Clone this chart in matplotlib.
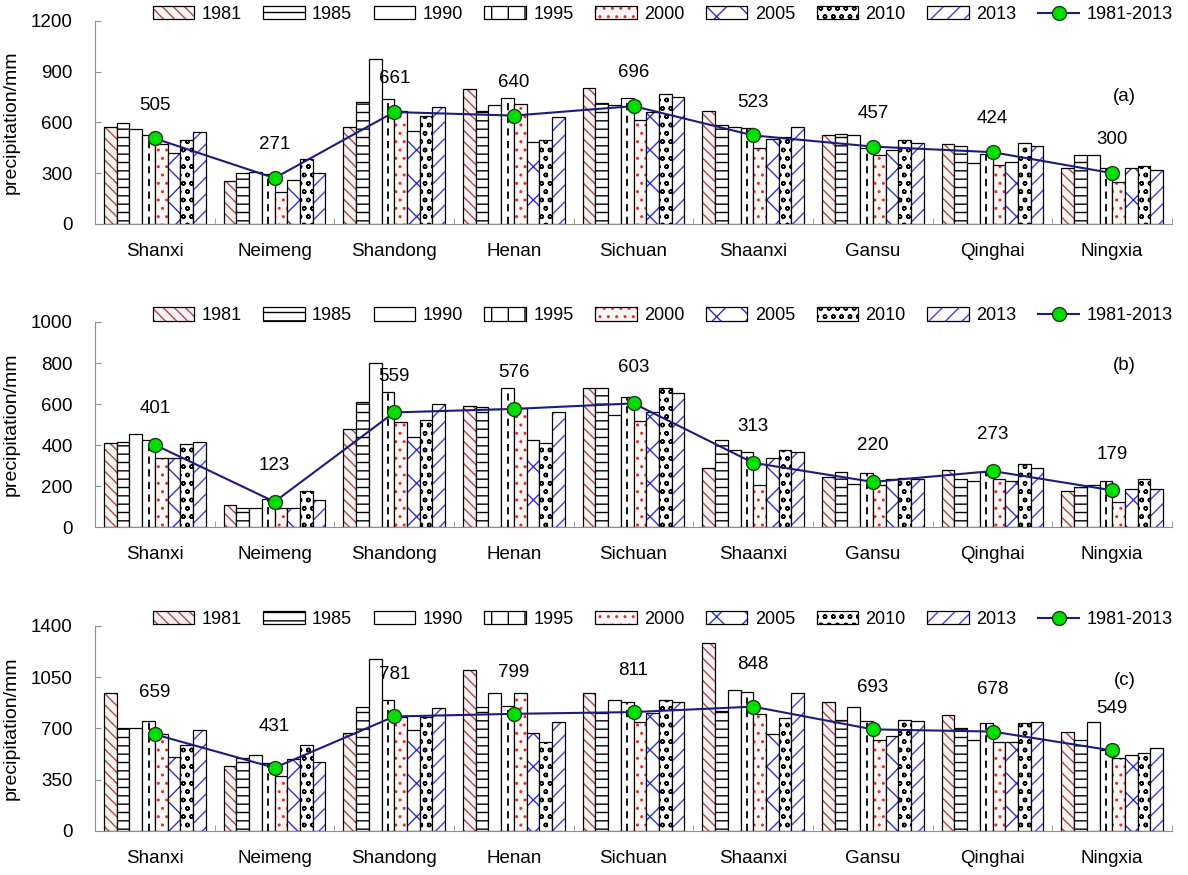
import numpy as np
import matplotlib.pyplot as plt
from matplotlib.legend_handler import HandlerTuple

plt.rcParams['font.family'] = ['Liberation Sans', 'DejaVu Sans']
plt.rcParams['hatch.linewidth'] = 1.0

provinces = ['Shanxi', 'Neimeng', 'Shandong', 'Henan', 'Sichuan',
             'Shaanxi', 'Gansu', 'Qinghai', 'Ningxia']
years = ['1981', '1985', '1990', '1995', '2000', '2005', '2010', '2013']

# (a) rows = years, columns = provinces
prec_a = [
    [574, 254, 574, 799, 804, 669, 525, 470, 332],
    [598, 303, 718, 669, 716, 582, 533, 460, 405],
    [559, 309, 972, 700, 700, 574, 525, 358, 405],
    [525, 295, 736, 742, 742, 565, 447, 413, 328],
    [472, 191, 669, 708, 614, 450, 407, 348, 250],
    [421, 260, 551, 482, 659, 500, 437, 364, 332],
    [496, 382, 637, 496, 765, 515, 494, 476, 342],
    [543, 303, 692, 629, 749, 572, 476, 462, 317],
]
mean_a = [505, 271, 661, 640, 696, 523, 457, 424, 300]

# (b)
prec_b = [
    [411, 108, 478, 592, 680, 290, 243, 277, 176],
    [416, 93, 611, 585, 680, 424, 269, 235, 196],
    [456, 93, 800, 578, 546, 377, 209, 223, 205],
    [425, 139, 660, 680, 632, 365, 264, 269, 223],
    [336, 93, 510, 579, 517, 207, 204, 235, 122],
    [336, 95, 437, 424, 560, 337, 235, 223, 187],
    [404, 176, 520, 411, 680, 377, 240, 305, 235],
    [416, 130, 600, 559, 652, 365, 235, 290, 187],
]
mean_b = [401, 123, 559, 576, 603, 313, 220, 273, 179]

# (c)
prec_c = [
    [939, 445, 670, 1098, 939, 1284, 882, 789, 677],
    [705, 498, 848, 843, 803, 820, 757, 705, 621],
    [705, 516, 1171, 939, 893, 961, 848, 621, 741],
    [752, 465, 893, 852, 880, 950, 752, 734, 555],
    [659, 375, 780, 939, 741, 796, 621, 609, 500],
    [507, 489, 686, 666, 808, 659, 650, 609, 518],
    [586, 584, 775, 609, 891, 773, 759, 734, 530],
    [686, 470, 836, 743, 881, 939, 751, 743, 566],
]
mean_c = [659, 431, 781, 799, 811, 848, 693, 678, 549]

# face colour, hatch colour, hatch for each year
styles = [
    ('#fbf3f3', '#a05050', '\\\\\\'),
    ('white', 'black', '--'),
    ('white', 'black', ''),
    ('white', 'black', ''),
    ('#fff6f6', '#e03030', '..'),
    ('white', '#3030d0', 'x'),
    ('white', 'black', 'oo'),
    ('#fafaff', '#4848c8', '//'),
]

fig = plt.figure(figsize=(11.88, 8.75), dpi=100)

panels = [
    (prec_a, mean_a, [0.080, 0.744, 0.9066, 0.2323], 1200, 300, '(a)', 0.625, 24),
    (prec_b, mean_b, [0.080, 0.3977, 0.9066, 0.2343], 1000, 200, '(b)', 0.79, 26),
    (prec_c, mean_c, [0.080, 0.0503, 0.9066, 0.2346], 1400, 350, '(c)', 0.735, 30),
]

x = np.arange(len(provinces))
w = 0.85 / len(years)

for vals, mean, rect, ymax, step, tag, tag_y, off in panels:
    ax = fig.add_axes(rect)
    handles = []
    for i, yr in enumerate(years):
        face, hc, hatch = styles[i]
        pos = x - 0.425 + w * (i + 0.5)
        b1 = ax.bar(pos, vals[i], w, color=face, edgecolor=hc, hatch=hatch, linewidth=0)
        b2 = ax.bar(pos, vals[i], w, fill=False, edgecolor='black', linewidth=0.9)
        if yr == '1995':
            ax.vlines(pos, 0, vals[i], colors='black', linestyles=(0, (4, 3)), linewidth=1.3)
            b1 = ax.bar(pos, [0] * len(pos), w, color='white', edgecolor='black', hatch='|', linewidth=0)
        handles.append((b1, b2))
    ln, = ax.plot(x, mean, color='#1c1c80', lw=1.5, marker='o', ms=10,
                  mfc='#00e000', mec='#1c3a1c', mew=1)
    handles.append(ln)
    for xi, m in zip(x, mean):
        ax.annotate(str(m), (xi, m), xytext=(0, off), textcoords='offset points',
                    ha='center', va='center', fontsize=13.5)

    ax.set_xlim(-0.5, 8.5)
    ax.set_ylim(0, ymax)
    ax.set_yticks(np.arange(0, ymax + 1, step))
    ax.set_xticks(x)
    ax.set_xticklabels(provinces)
    ax.set_xticks(np.arange(-0.5, 9, 1), minor=True)
    ax.tick_params(axis='x', which='major', length=0, pad=14, labelsize=13.5)
    ax.tick_params(axis='x', which='minor', direction='in', length=4, color='#909090')
    ax.tick_params(axis='y', direction='in', length=4, color='#909090', pad=16, labelsize=13.5)
    for s in ['top', 'right']:
        ax.spines[s].set_visible(False)
    for s in ['left', 'bottom']:
        ax.spines[s].set_color('#909090')
    ax.set_ylabel('precipitation/mm', fontsize=14)
    ax.yaxis.set_label_coords(-0.07, 0.5)
    ax.text(0.956, tag_y, tag, transform=ax.transAxes, ha='center', va='center', fontsize=13.5)

    ax.legend(handles, years + ['1981-2013'], handler_map={tuple: HandlerTuple(ndivide=1)},
              loc='center', bbox_to_anchor=(0.527, 1.03), ncol=9, frameon=False,
              fontsize=13, handlelength=2.3, handleheight=0.75, columnspacing=1.2,
              handletextpad=0.4, borderaxespad=0)

fig.savefig('out.png', dpi=100)
